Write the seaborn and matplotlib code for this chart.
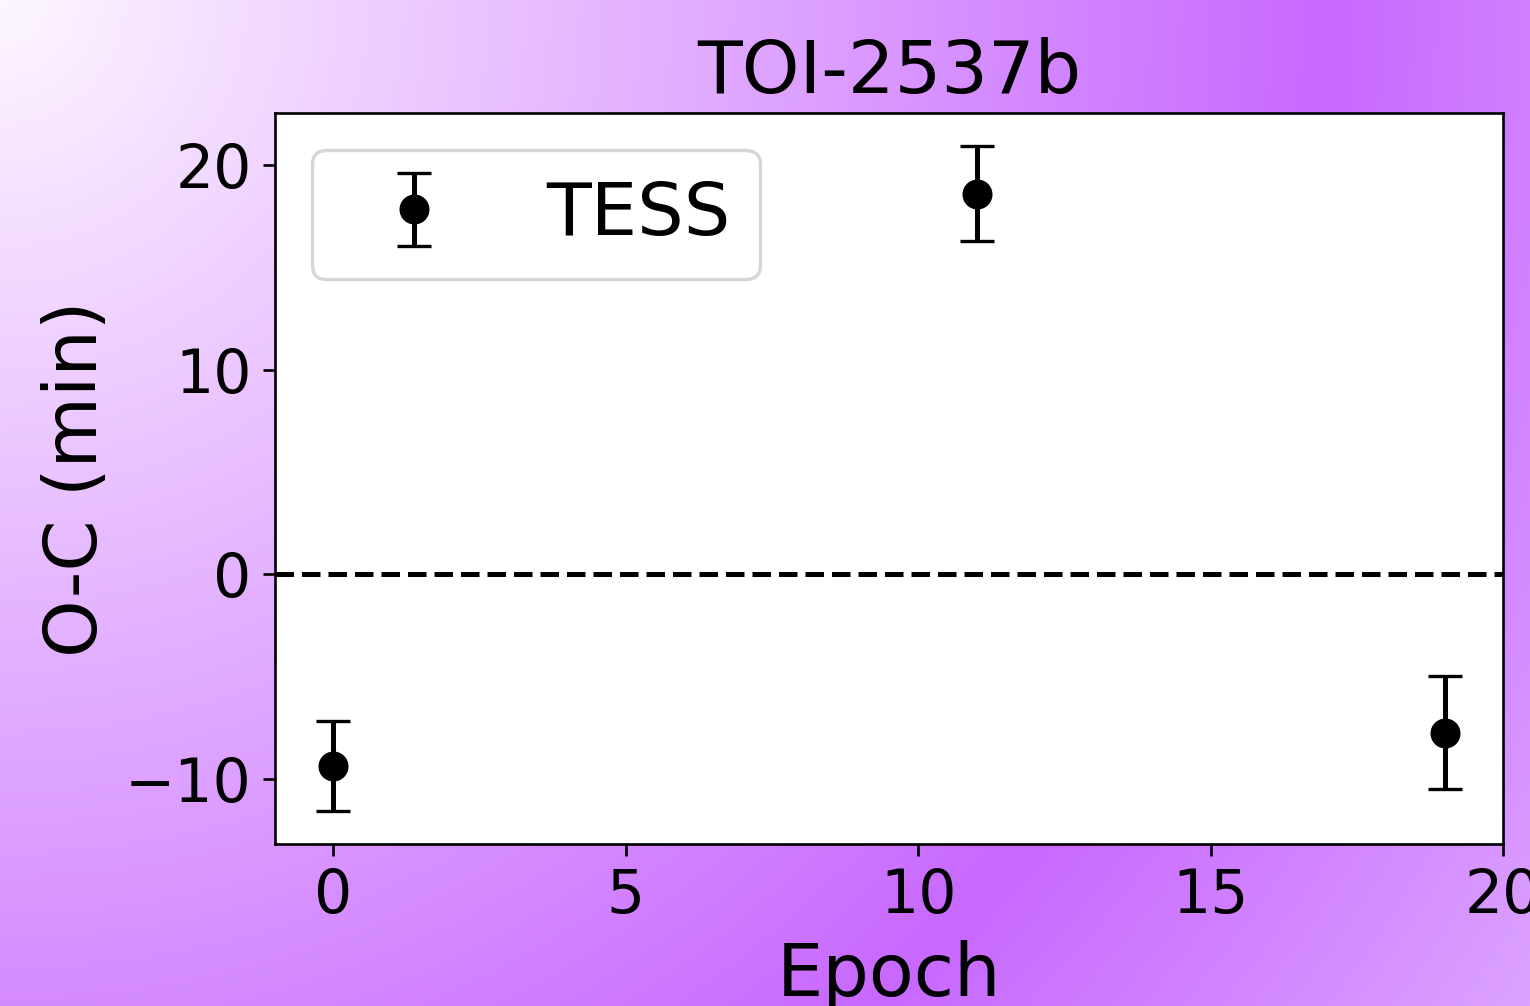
import numpy as np
import seaborn as sns
from matplotlib import pyplot as plt
from matplotlib.colors import LinearSegmentedColormap

# O-C values
epoch = [0, 11, 19]
oc_min = [-9.4, 18.6, -7.75]
oc_err = [2.2, 2.33, 2.76]

sns.set_style("ticks", {
    "axes.edgecolor": "black",
    "text.color": "black",
    "axes.labelcolor": "black",
    "xtick.color": "black",
    "ytick.color": "black",
})
plt.rcParams['font.family'] = ['DejaVu Sans']
plt.rcParams['xtick.major.size'] = 3.5
plt.rcParams['ytick.major.size'] = 3.5
plt.rcParams['axes.linewidth'] = 0.8

fig = plt.figure(figsize=(1530 / 240, 1006 / 240), dpi=240)

# radial gradient background from the top-left corner
bg = fig.add_axes([0, 0, 1, 1], zorder=-10)
h, w = 1006, 1530
yy, xx = np.mgrid[0:h, 0:w]
r = np.sqrt(xx ** 2 + yy ** 2) / np.sqrt(w ** 2 + h ** 2)
cmap = LinearSegmentedColormap.from_list(
    "bg", [(0.0, "#fdf6ff"), (0.726, "#c868ff"), (1.0, "#dca2ff")])
bg.imshow(r, cmap=cmap, vmin=0, vmax=1, aspect="auto", interpolation="bilinear")
bg.axis("off")

ax = fig.add_axes([275 / 1530, 1 - 844 / 1006, (1503 - 275) / 1530, (844 - 113) / 1006])
ax.set_facecolor("white")

ax.axhline(0, color="black", ls="--", lw=1.5)
ax.errorbar(epoch, oc_min, yerr=oc_err, fmt="o", color="black",
            markersize=8, capsize=5, elinewidth=1.5, label="TESS")

ax.set_xlim(-1, 20)
ax.set_ylim(-13.2, 22.55)
ax.set_xticks([0, 5, 10, 15, 20])
ax.set_yticks([-10, 0, 10, 20])
ax.tick_params(labelsize=18)
ax.set_xlabel("Epoch", fontsize=22)
ax.set_ylabel("O-C (min)", fontsize=22)
ax.set_title("TOI-2537b", fontsize=22)
ax.legend(loc="upper left", fontsize=22)

fig.savefig("out.png", dpi=240)
